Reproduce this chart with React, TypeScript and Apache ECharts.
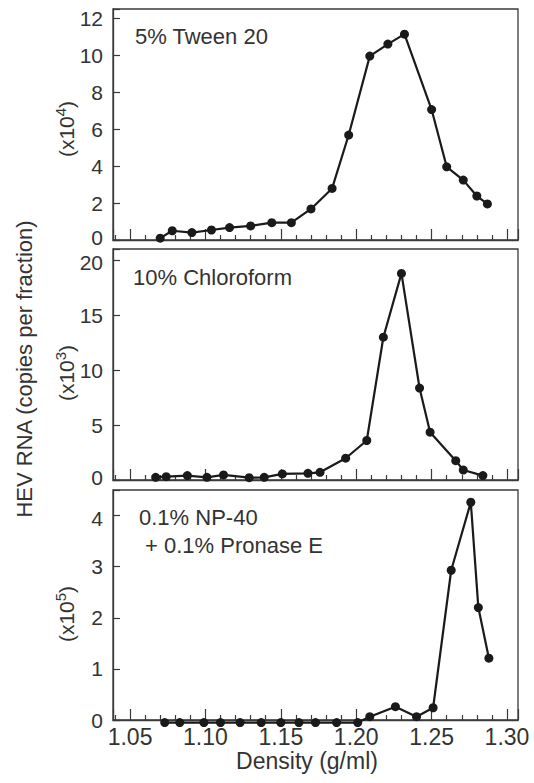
import React, { useEffect, useRef } from "react";
import * as echarts from "echarts";

// Panel 1: 5% Tween 20 (x10^4)
const tweenDensity = [1.070, 1.078, 1.091, 1.104, 1.116, 1.130, 1.144, 1.157, 1.170, 1.184, 1.195, 1.209, 1.221, 1.232, 1.250, 1.260, 1.271, 1.280, 1.287];
const tweenRNA = [0.1, 0.5, 0.4, 0.54, 0.67, 0.76, 0.94, 0.94, 1.68, 2.79, 5.68, 9.95, 10.6, 11.14, 7.06, 3.96, 3.24, 2.38, 1.95];

// Panel 2: 10% Chloroform (x10^3)
const chloroDensity = [1.067, 1.074, 1.088, 1.101, 1.112, 1.129, 1.139, 1.151, 1.168, 1.176, 1.193, 1.207, 1.218, 1.230, 1.242, 1.249, 1.266, 1.271, 1.284];
const chloroRNA = [0.24, 0.3, 0.4, 0.24, 0.46, 0.21, 0.24, 0.55, 0.61, 0.7, 1.98, 3.59, 12.98, 18.78, 8.36, 4.35, 1.76, 0.91, 0.4];

// Panel 3: 0.1% NP-40 + 0.1% Pronase E (x10^5)
const npDensity = [1.073, 1.083, 1.099, 1.110, 1.123, 1.137, 1.150, 1.162, 1.173, 1.187, 1.201, 1.209, 1.226, 1.240, 1.251, 1.263, 1.276, 1.281, 1.288];
const npRNA = [-0.05, -0.05, -0.05, -0.05, -0.05, -0.05, -0.05, -0.05, -0.05, -0.05, -0.05, 0.065, 0.26, 0.065, 0.24, 2.93, 4.26, 2.2, 1.21];

const panelTitles = ["5% Tween 20", "10% Chloroform", "0.1% NP-40", "+ 0.1% Pronase E"];
const unitBases = ["(x10", "(x10", "(x10"];
const unitExponents = ["4", "3", "5"];
const yMax = [12.5, 21, 4.5];
const yInterval = [2, 5, 1];
const xMin = 1.0387;
const xMax = 1.3073;
const xLabelStep = 0.05;
const yAxisTitle = "HEV RNA (copies per fraction)";
const xAxisTitle = "Density (g/ml)";

const FONT = "'Liberation Sans', Arial, Helvetica, sans-serif";
const TEXT = "#333333";
const INK = "#1a1a1a";
const FRAME = "#3a3a3a";

const grids = [
  { top: 9, height: 231 },
  { top: 249, height: 231 },
  { top: 490, height: 230 },
];

const tickRich = {
  n: { fontSize: 21, fontFamily: FONT, color: TEXT, lineHeight: 18 },
  up: { fontSize: 21, fontFamily: FONT, color: TEXT, lineHeight: 18, padding: [0, 0, 5, 0] },
  dn: { fontSize: 21, fontFamily: FONT, color: TEXT, lineHeight: 18, padding: [5, 0, 0, 0] },
};

export default function App() {
  const ref = useRef<HTMLDivElement>(null);

  useEffect(() => {
    if (!ref.current) return;
    const chart = echarts.init(ref.current, undefined, { renderer: "svg" });

    const seriesData = [
      tweenDensity.map((d, i) => [d, tweenRNA[i]]),
      chloroDensity.map((d, i) => [d, chloroRNA[i]]),
      npDensity.map((d, i) => [d, npRNA[i]]),
    ];

    const yLabel = (i: number) => (v: number) => {
      if (Math.abs(v / yInterval[i] - Math.round(v / yInterval[i])) > 1e-6) return "";
      const isTopOfLower = i > 0 && v === Math.floor(yMax[i] / yInterval[i]) * yInterval[i];
      const isBottomOfUpper = i < 2 && v === 0;
      const key = isBottomOfUpper ? "up" : isTopOfLower ? "dn" : "n";
      return `{${key}|${v}}`;
    };

    const option: any = {
      animation: false,
      grid: grids.map((g) => ({
        left: 113,
        right: 16,
        top: g.top,
        height: g.height,
        show: true,
        borderColor: FRAME,
        borderWidth: 1.3,
        backgroundColor: "transparent",
      })),
      xAxis: grids.map((_, i) => ({
        type: "value",
        gridIndex: i,
        min: xMin,
        max: xMax,
        splitNumber: 5,
        axisLine: { show: true, lineStyle: { color: FRAME, width: 1.3 } },
        axisTick: { show: true, inside: true, length: 11, lineStyle: { color: FRAME, width: 1.2 } },
        minorTick: { show: true, splitNumber: 5, length: 5, lineStyle: { color: FRAME, width: 1.2 } },
        splitLine: { show: false },
        minorSplitLine: { show: false },
        axisLabel: {
          show: i === 2,
          fontSize: 23,
          fontFamily: FONT,
          color: TEXT,
          margin: 5,
          formatter: (v: number) =>
            Math.abs(v / xLabelStep - Math.round(v / xLabelStep)) < 1e-6 ? v.toFixed(2) : "",
        },
      })),
      yAxis: grids.map((_, i) => ({
        type: "value",
        gridIndex: i,
        min: 0,
        max: yMax[i],
        interval: yInterval[i],
        axisLine: { show: true, lineStyle: { color: FRAME, width: 1.3 } },
        axisTick: { show: true, inside: true, length: 7, lineStyle: { color: FRAME, width: 1.2 } },
        splitLine: { show: false },
        axisLabel: {
          fontSize: 21,
          lineHeight: 18,
          fontFamily: FONT,
          color: TEXT,
          margin: 10,
          formatter: yLabel(i),
          rich: tickRich,
        },
      })),
      series: seriesData.map((data, i) => ({
        type: "line",
        xAxisIndex: i,
        yAxisIndex: i,
        data,
        clip: false,
        symbol: "circle",
        symbolSize: 9,
        itemStyle: { color: INK },
        lineStyle: { color: INK, width: 2.2 },
      })),
      graphic: [
        {
          type: "text",
          x: 135,
          y: 36,
          style: { text: panelTitles[0], font: `22px ${FONT}`, fill: TEXT, verticalAlign: "middle" },
        },
        {
          type: "text",
          x: 133,
          y: 277,
          style: { text: panelTitles[1], font: `22px ${FONT}`, fill: TEXT, verticalAlign: "middle" },
        },
        {
          type: "text",
          x: 139,
          y: 517,
          style: { text: panelTitles[2], font: `22px ${FONT}`, fill: TEXT, verticalAlign: "middle" },
        },
        {
          type: "text",
          x: 145,
          y: 545,
          style: { text: panelTitles[3], font: `22px ${FONT}`, fill: TEXT, verticalAlign: "middle" },
        },
        ...[129, 373, 614].map((cy, i) => ({
          type: "text",
          x: 65,
          y: cy,
          rotation: Math.PI / 2,
          style: {
            text: `{b|${unitBases[i]}}{s|${unitExponents[i]}}{b|)}`,
            align: "center",
            verticalAlign: "middle",
            fill: TEXT,
            rich: {
              b: { fontSize: 21, fontFamily: FONT, fill: TEXT, lineHeight: 24, verticalAlign: "bottom" },
              s: { fontSize: 15, fontFamily: FONT, fill: TEXT, lineHeight: 14, verticalAlign: "top" },
            },
          },
        })),
        {
          type: "text",
          x: 24,
          y: 369,
          rotation: Math.PI / 2,
          style: {
            text: yAxisTitle,
            font: `22px ${FONT}`,
            fill: TEXT,
            align: "center",
            verticalAlign: "middle",
          },
        },
        {
          type: "text",
          x: 307,
          y: 761,
          style: {
            text: xAxisTitle,
            font: `23px ${FONT}`,
            fill: TEXT,
            align: "center",
            verticalAlign: "middle",
          },
        },
      ],
    };

    chart.setOption(option);
    return () => chart.dispose();
  }, []);

  return (
    <div
      ref={ref}
      style={{ position: "fixed", left: 0, top: 0, width: 534, height: 783, background: "#ffffff" }}
    />
  );
}
